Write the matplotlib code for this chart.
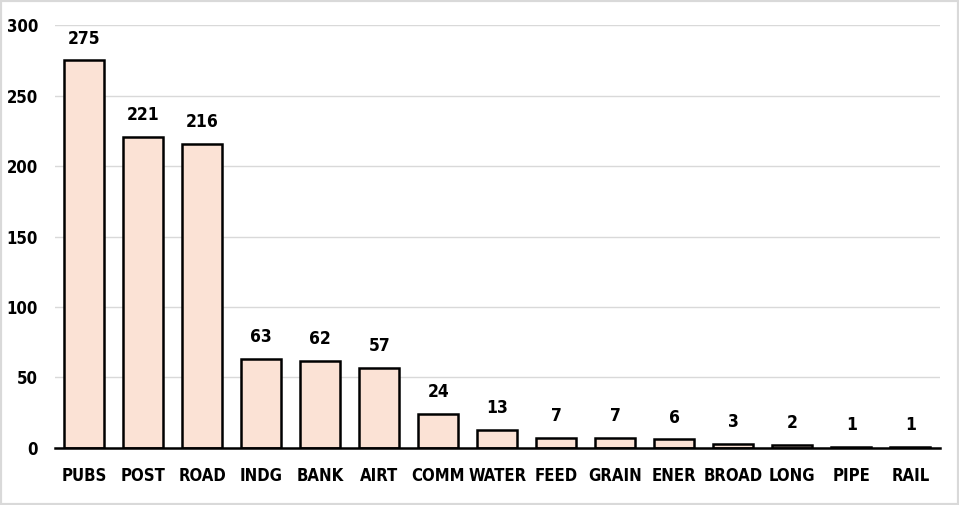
import matplotlib
matplotlib.use('Agg')
from matplotlib import pyplot as plt
from matplotlib.patches import Rectangle

plt.rcParams['font.family'] = ['DejaVu Sans']
plt.rcParams['font.stretch'] = 'condensed'

categories = ['PUBS', 'POST', 'ROAD', 'INDG', 'BANK', 'AIRT', 'COMM', 'WATER',
              'FEED', 'GRAIN', 'ENER', 'BROAD', 'LONG', 'PIPE', 'RAIL']
counts = [275, 221, 216, 63, 62, 57, 24, 13, 7, 7, 6, 3, 2, 1, 1]

fig = plt.figure(figsize=(9.59, 5.05), dpi=100)
ax = fig.add_axes([0.057, 0.113, 0.923, 0.837])

x = list(range(len(categories)))
bars = ax.bar(x, counts, width=0.68, color='#FBE2D5', edgecolor='black',
              linewidth=1.8, zorder=3)

for xi, v in zip(x, counts):
    ax.text(xi, v + 9, str(v), ha='center', va='bottom', fontsize=12.5,
            fontweight='bold', fontstretch='condensed')

ax.set_xlim(-0.5, 14.5)
ax.set_ylim(0, 300)
ax.set_yticks(range(0, 301, 50))
ax.set_xticks(x)
ax.set_xticklabels(categories)
ax.yaxis.grid(True, color='#d9d9d9', linewidth=1, zorder=0)
ax.tick_params(axis='both', length=0, labelsize=12)
ax.tick_params(axis='x', pad=14)
ax.tick_params(axis='y', pad=12)
for lab in ax.get_xticklabels() + ax.get_yticklabels():
    lab.set_fontweight('bold')
    lab.set_fontstretch('condensed')
for s in ['top', 'right', 'left']:
    ax.spines[s].set_visible(False)
ax.spines['bottom'].set_color('black')
ax.spines['bottom'].set_linewidth(1.8)
ax.spines['bottom'].set_zorder(4)

fig.patches.append(Rectangle((0, 0), 1, 1, transform=fig.transFigure,
                             fill=False, edgecolor='#d9d9d9', linewidth=3))

fig.savefig('out.png', dpi=100)
